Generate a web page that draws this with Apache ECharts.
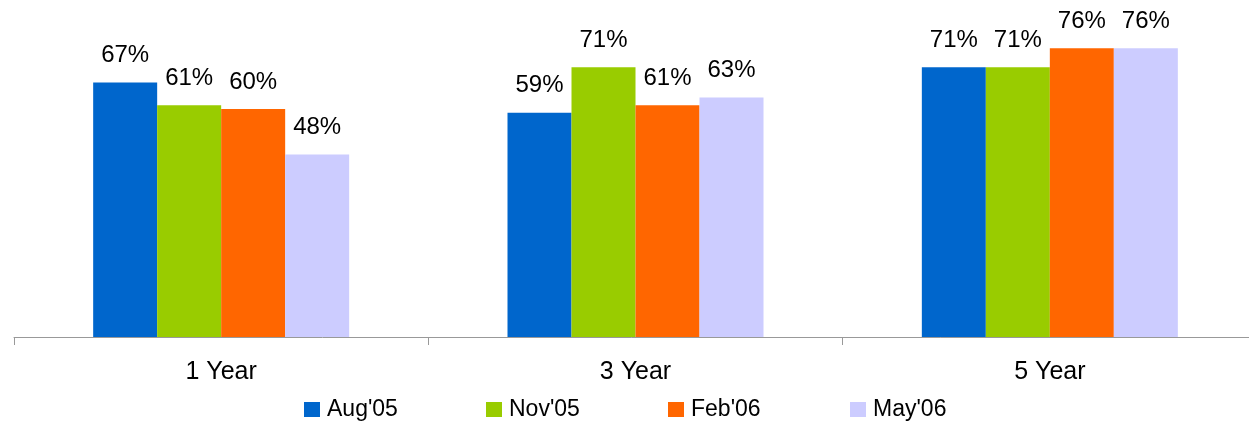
<!DOCTYPE html>
<html><head><meta charset="utf-8">
<script src="https://cdn.jsdelivr.net/npm/echarts@6/dist/echarts.min.js"></script>
<style>html,body{margin:0;padding:0;background:#fff}#c{width:1249px;height:423px}</style>
</head><body><div id="c"></div>
<script>
const categories = ['1 Year', '3 Year', '5 Year'];
const seriesNames = ["Aug'05", "Nov'05", "Feb'06", "May'06"];
const aug05 = [67, 59, 71];
const nov05 = [61, 71, 71];
const feb06 = [60, 61, 76];
const may06 = [48, 63, 76];
const colors = ['#0066CC', '#99CC00', '#FF6600', '#CCCCFF'];
const values = [aug05, nov05, feb06, may06];
const chart = echarts.init(document.getElementById('c'));
const font = 'Liberation Sans, Arial, sans-serif';
chart.setOption({
  animation: false,
  grid: { left: 14, top: 33, width: 1243, bottom: 86, containLabel: false, outerBoundsMode: 'none' },
  legend: {
    top: 398, left: 304, padding: 0, itemWidth: 16, itemHeight: 15, itemGap: 19,
    icon: 'rect',
    textStyle: { fontFamily: font, fontSize: 23, color: '#000', width: 140, lineHeight: 23, padding: [0, 0, 0, 2] },
    data: seriesNames
  },
  xAxis: {
    type: 'category', data: categories,
    axisLine: { lineStyle: { color: '#999', width: 1 } },
    axisTick: { show: true, length: 8, lineStyle: { color: '#999' } },
    axisLabel: { fontFamily: font, fontSize: 25, color: '#000', margin: 23 }
  },
  yAxis: { type: 'value', min: 0, max: 80, show: false, splitLine: { show: false } },
  series: seriesNames.map((n, i) => ({
    name: n, type: 'bar', data: values[i], barWidth: 64, barGap: '0%',
    itemStyle: { color: colors[i] },
    label: { show: true, position: 'top', distance: 15, formatter: '{c}%', fontFamily: font, fontSize: 24, color: '#000' }
  }))
});
</script></body></html>
